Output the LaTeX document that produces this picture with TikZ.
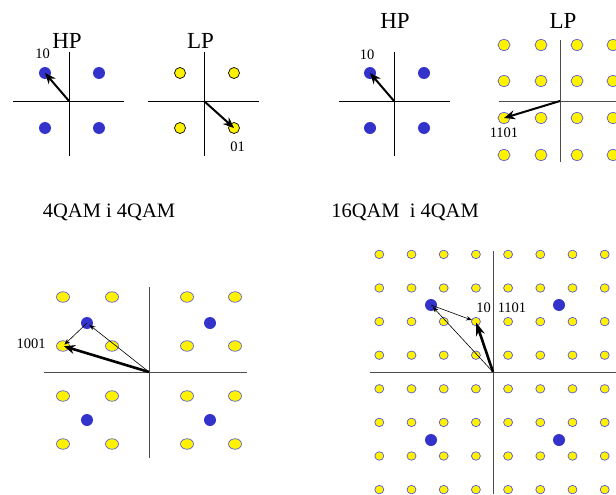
\documentclass[tikz,border=0pt]{standalone}
\usepackage{fontspec}
\setmainfont{Liberation Serif}
\usetikzlibrary{arrows.meta,shapes.geometric}
\definecolor{hpblue}{RGB}{51,51,204}
\definecolor{lprim}{RGB}{90,90,215}
\tikzset{
  axln/.style={line width=0.9pt},
  hpdot/.style={circle,fill=hpblue,inner sep=0pt,minimum size=12pt},      % HP symbol
  lpdot/.style={ellipse,draw=lprim,fill=yellow,line width=0.7pt,inner sep=0pt}, % LP symbol
  vec/.style={-{Stealth[length=11pt,width=9pt]},line width=2pt},           % resulting vector
  subvec/.style={-{Stealth[length=6pt,width=4.5pt]},line width=0.6pt},     % HP / LP parts
  ttl/.style={font=\fontsize{23}{23}\selectfont,inner sep=0pt},
  qcap/.style={font=\fontsize{20.5}{20.5}\selectfont,inner sep=0pt,anchor=base},
  lbl/.style={font=\fontsize{14.5}{14.5}\selectfont,inner sep=0pt},
}
\begin{document}
\begin{tikzpicture}[x=1pt,y=-1pt]
  \useasboundingbox (0,0) rectangle (616,495);
  \clip (0,0) rectangle (616,495);

  % ---- 4QAM, HP part ----
  \coordinate (oA) at (69,101);
  \draw[axln] (13,101)--(124,101);
  \draw[axln] (69,52)--(69,156);
  \foreach \x/\y/\n in {45/73/1,99/73/2,45/128/3,99/128/4}
    \node[hpdot] (a\n) at (\x,\y) {};
  \draw[vec] (oA) -- (a1.center);
  \node[lbl] (a-lbl) at (42.5,54) {10};
  \node[ttl] (a-ttl) at (67,41) {HP};

  % ---- 4QAM, LP part ----
  \coordinate (oB) at (204,101);
  \draw[axln] (148,101)--(259,101);
  \draw[axln] (204,52)--(204,156);
  \foreach \x/\y/\n in {180/73/1,234/73/2,180/128/3,234/128/4}
    \node[lpdot,draw=black,minimum size=11pt] (b\n) at (\x,\y) {};
  \draw[vec] (oB) -- (b4.center);
  \node[lbl] (b-lbl) at (237.5,146.5) {01};
  \node[ttl] (b-ttl) at (200.5,41) {LP};

  % ---- 16QAM, HP part ----
  \coordinate (oC) at (394,101);
  \draw[axln] (339,101)--(450,101);
  \draw[axln] (394,52)--(394,156);
  \foreach \x/\y/\n in {370/73/1,424/73/2,370/128/3,424/128/4}
    \node[hpdot] (c\n) at (\x,\y) {};
  \draw[vec] (oC) -- (c1.center);
  \node[lbl] (c-lbl) at (367,54.5) {10};
  \node[ttl] (c-ttl) at (395,21) {HP};

  % ---- 16QAM, LP part ----
  \coordinate (oD) at (560,101);
  \draw[axln,black!70] (499,101)--(616,101);
  \draw[axln,black!70] (560,40)--(560,162);
  \foreach \x [count=\i] in {504,541,577,613}
    \foreach \y [count=\j] in {45,81,118,155}
      \node[lpdot,minimum width=12pt,minimum height=11pt] (d\i\j) at (\x,\y) {};
  \draw[vec] (oD) -- (d13.center);
  \node[lbl] (d-lbl) at (504,133) {1101};
  \node[ttl] (d-ttl) at (563,21) {LP};

  % captions
  \node[qcap] (capL) at (109,217) {4QAM i 4QAM};
  \node[qcap] (capR) at (405,217) {16QAM\ \ i 4QAM};

  % ---- 4QAM in 4QAM ----
  \coordinate (oE) at (149,372);
  \draw[axln,black!70] (44,372)--(247,372);
  \draw[axln,black!70] (149,287)--(149,458);
  \foreach \x [count=\i] in {63,112,187,235}
    \foreach \y [count=\j] in {297,346,396,444}
      \node[lpdot,minimum width=13pt,minimum height=10.5pt] (e\i\j) at (\x,\y) {};
  \foreach \x/\y/\n in {87/323/1,210/323/2,87/420/3,210/420/4}
    \node[hpdot] (eb\n) at (\x,\y) {};
  \draw[subvec,shorten >=3pt] (oE) -- (eb1.center);
  \draw[subvec,shorten >=2pt] (eb1.center) -- (e12.center);
  \draw[vec,line width=2.6pt,shorten >=1pt] (oE) -- (e12.center);
  \node[lbl] (e-lbl) at (31,344) {1001};

  % ---- 4QAM in 16QAM ----
  \coordinate (oF) at (493,372);
  \draw[axln,black!70] (370,372)--(616,372);
  \draw[axln,black!70] (493,251)--(493,494);
  \foreach \i in {0,...,7}
    \foreach \j in {0,...,7}
      \node[lpdot,minimum width=9pt,minimum height=8.5pt] (f\i\j)
        at ({492+(\i-3.5)*32.2},{372+(\j-3.5)*33.6}) {};
  \foreach \x/\y/\n in {431/305/1,559/305/2,431/440/3,559/440/4}
    \node[hpdot] (fb\n) at (\x,\y) {};
  \draw[subvec,shorten >=2.5pt] (oF) -- (fb1.center);
  \draw[subvec,shorten >=4pt] (fb1.center) -- (f32.center);
  \draw[vec,line width=2.6pt,-{Stealth[length=13pt,width=9pt]},shorten >=1pt] (oF) -- (f32.center);
  \node[lbl] (f-lbl1) at (483.5,307.5) {10};
  \node[lbl] (f-lbl2) at (512,307.5) {1101};
\end{tikzpicture}
\end{document}
